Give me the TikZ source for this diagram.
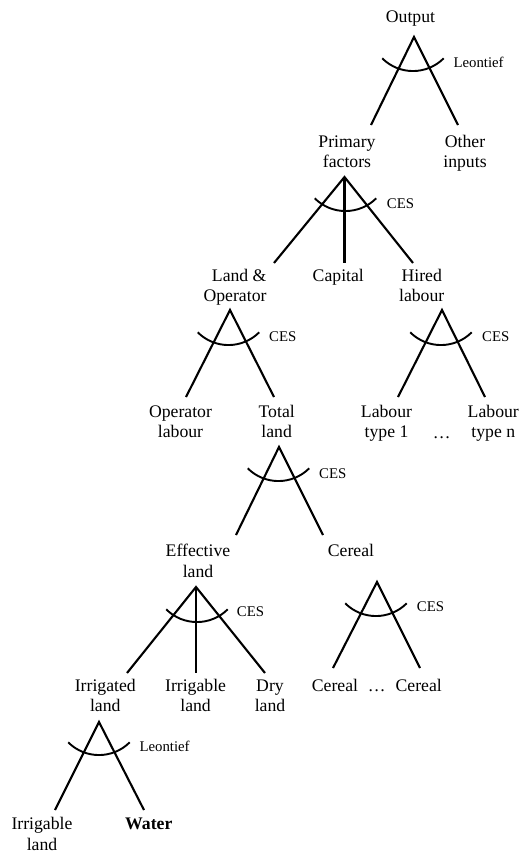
\documentclass[tikz,border=0pt]{standalone}
\usepackage{fontspec}
\setmainfont{Liberation Serif}
\newfontfamily\labfont{Liberation Serif}
\begin{document}
\begin{tikzpicture}[x=1pt,y=-1pt,
  lbl/.style={anchor=north, inner sep=0pt, align=center, font=\labfont\fontsize{17.7}{20.75}\selectfont},
  tag/.style={anchor=base west, inner sep=0pt, font=\labfont\fontsize{14.8}{17}\selectfont},
  edge/.style={line width=2.1pt, line join=miter},
  fan/.style={line width=1.9pt}]
\useasboundingbox (0,0) rectangle (523,854);
\newcommand\fanarc[1]{\draw[fan] (#1) ++(-30.8,-12.7) arc[start angle=135,end angle=45,radius=43.5];}
\def\S{\strut}
% labels
\node[lbl] (output) at (410.5,8.2) {Output\S};
\node[lbl] (primary) at (347,132.5) {Primary\S\\factors\S};
\node[lbl] (other) at (465,132.5) {Other\S\\inputs\S};
\node[lbl, anchor=north east, align=right] (landop) at (266.7,266.5) {Land \&\S\\Operator\S};
\node[lbl] (capital) at (338.3,266.5) {Capital\S};
\node[lbl] (hired) at (421.7,266.5) {Hired\S\\labour\S};
\node[lbl] (oplab) at (180.5,402.5) {Operator\S\\labour\S};
\node[lbl] (total) at (276.7,402.5) {Total\S\\land\S};
\node[lbl] (lab1) at (386.5,402.5) {Labour\S\\type 1\S};
\node[lbl] (labdots) at (441.7,423.5) {\S…};
\node[lbl] (labn) at (493.3,402.5) {Labour\S\\type n\S};
\node[lbl] (eff) at (198,542.2) {Effective\S\\land\S};
\node[lbl] (cereal) at (351,542.2) {Cereal\S};
\node[lbl] (irrigated) at (105.3,676.5) {Irrigated\S\\land\S};
\node[lbl] (irrigable) at (195.6,676.5) {Irrigable\S\\land\S};
\node[lbl] (dry) at (270,676.5) {Dry\S\\land\S};
\node[lbl] (cer1) at (335,676.5) {Cereal\S};
\node[lbl] (cerdots) at (376.7,676.5) {\S…};
\node[lbl] (cer2) at (418.7,676.5) {Cereal\S};
\node[lbl] (irrland) at (42,815.2) {Irrigable\S\\land\S};
\node[lbl, font=\labfont\fontsize{17.7}{20.75}\selectfont\bfseries] (water) at (148.8,815.2) {Water\S};
% function tags
\node[tag] (t1) at (453.3,67.7) {Leontief};
\node[tag] (t2) at (386.7,208) {CES};
\node[tag] (t3) at (269,341) {CES};
\node[tag] (t4) at (482,341) {CES};
\node[tag] (t5) at (319,478) {CES};
\node[tag] (t6) at (236.7,616.7) {CES};
\node[tag] (t7) at (416.7,611.7) {CES};
\node[tag] (t8) at (139.3,751.7) {Leontief};
% tree 1
\coordinate (a1) at (414,37);
\coordinate (a1l) at (371,125);
\coordinate (a1r) at (458,125);
\draw[edge] (a1l) -- (a1) -- (a1r);
\fanarc{413,71}
% tree 2
\coordinate (a2) at (344.5,177);
\coordinate (a2l) at (274,263);
\coordinate (a2m) at (344.5,263);
\coordinate (a2r) at (413,263);
\draw[edge] (a2l) -- (a2) -- (a2r);
\draw[edge] (a2) -- (a2m);
\fanarc{345.5,211}
% tree 3
\coordinate (a3) at (230,310);
\coordinate (a3l) at (186,397);
\coordinate (a3r) at (274,397);
\draw[edge] (a3l) -- (a3) -- (a3r);
\fanarc{228.5,345}
% tree 4
\coordinate (a4) at (442,310);
\coordinate (a4l) at (398,397);
\coordinate (a4r) at (485,397);
\draw[edge] (a4l) -- (a4) -- (a4r);
\fanarc{441,345}
% tree 5
\coordinate (a5) at (279,447);
\coordinate (a5l) at (236,535);
\coordinate (a5r) at (323,535);
\draw[edge] (a5l) -- (a5) -- (a5r);
\fanarc{278.5,481}
% tree 6
\coordinate (a6) at (196,587);
\coordinate (a6l) at (127,673);
\coordinate (a6m) at (196,673);
\coordinate (a6r) at (265,673);
\draw[edge] (a6l) -- (a6) -- (a6r);
\draw[edge] (a6) -- (a6m);
\fanarc{197,622}
% tree 7
\coordinate (a7) at (377,582);
\coordinate (a7l) at (333,668);
\coordinate (a7r) at (420,668);
\draw[edge] (a7l) -- (a7) -- (a7r);
\fanarc{376,616}
% tree 8
\coordinate (a8) at (99,722);
\coordinate (a8l) at (55,810);
\coordinate (a8r) at (144,810);
\draw[edge] (a8l) -- (a8) -- (a8r);
\fanarc{99,755}
\end{tikzpicture}
\end{document}
